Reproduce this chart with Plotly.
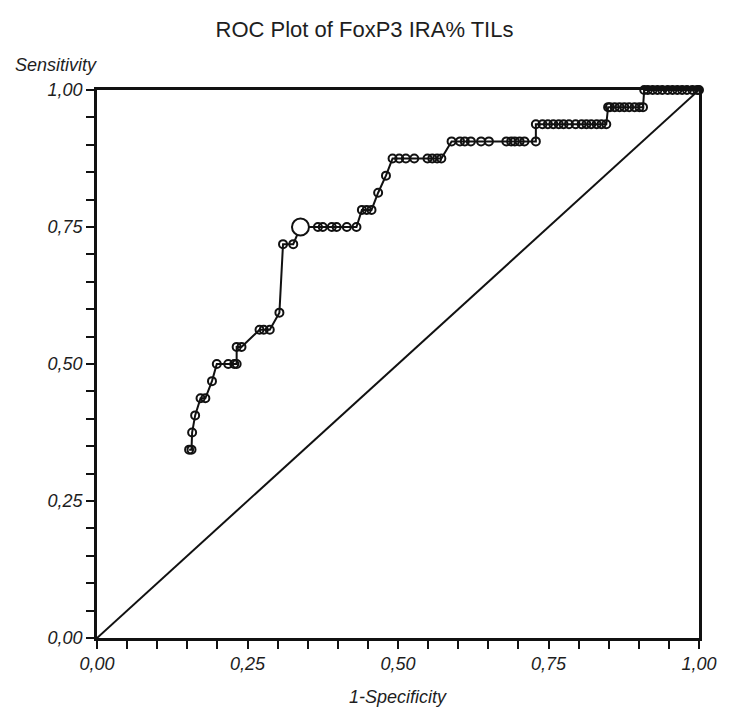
import plotly.graph_objects as go

# ROC curve points: 1-specificity (false positive rate) and sensitivity
one_minus_spec = [
    0.153, 0.157, 0.158, 0.163, 0.172, 0.180, 0.191,
    0.199, 0.218, 0.228, 0.232, 0.232, 0.240,
    0.270, 0.277, 0.287, 0.303,
    0.309, 0.326,
    0.338, 0.367, 0.375, 0.390, 0.398, 0.415, 0.431,
    0.440, 0.448, 0.456, 0.467, 0.480,
    0.491, 0.502, 0.513, 0.527, 0.549, 0.557, 0.565, 0.572,
    0.589, 0.603, 0.611, 0.621, 0.638, 0.651, 0.680, 0.688, 0.694, 0.702, 0.710, 0.729,
    0.729, 0.740, 0.749, 0.758, 0.767, 0.775, 0.784, 0.795, 0.805, 0.813, 0.821, 0.830, 0.838, 0.846,
    0.849, 0.852, 0.860, 0.868, 0.876, 0.884, 0.893, 0.901, 0.907,
    0.909, 0.915, 0.923, 0.931, 0.939, 0.948, 0.956, 0.964, 0.972, 0.980, 0.989, 0.997, 1.000,
]
sensitivity = [
    0.34375, 0.34375, 0.375, 0.40625, 0.4375, 0.4375, 0.46875,
    0.5, 0.5, 0.5, 0.5, 0.53125, 0.53125,
    0.5625, 0.5625, 0.5625, 0.59375,
    0.71875, 0.71875,
    0.75, 0.75, 0.75, 0.75, 0.75, 0.75, 0.75,
    0.78125, 0.78125, 0.78125, 0.8125, 0.84375,
    0.875, 0.875, 0.875, 0.875, 0.875, 0.875, 0.875, 0.875,
    0.90625, 0.90625, 0.90625, 0.90625, 0.90625, 0.90625, 0.90625, 0.90625, 0.90625, 0.90625, 0.90625, 0.90625,
    0.9375, 0.9375, 0.9375, 0.9375, 0.9375, 0.9375, 0.9375, 0.9375, 0.9375, 0.9375, 0.9375, 0.9375, 0.9375, 0.9375,
    0.96875, 0.96875, 0.96875, 0.96875, 0.96875, 0.96875, 0.96875, 0.96875, 0.96875,
    1.0, 1.0, 1.0, 1.0, 1.0, 1.0, 1.0, 1.0, 1.0, 1.0, 1.0, 1.0, 1.0,
]

# Optimal cut-off point highlighted on the curve
cutoff_x = [0.338]
cutoff_y = [0.75]

# Chance (reference) line
chance_x = [0.0, 1.0]
chance_y = [0.0, 1.0]

tick_vals = [0.0, 0.25, 0.5, 0.75, 1.0]
tick_text = ["0,00", "0,25", "0,50", "0,75", "1,00"]

INK = "#111111"
TEXT = "#1e1e1e"
FONT = "Liberation Sans, Arial, sans-serif"

fig = go.Figure()

fig.add_trace(go.Scatter(
    x=chance_x, y=chance_y, mode="lines",
    line=dict(color=INK, width=2), hoverinfo="skip", showlegend=False,
))

fig.add_trace(go.Scatter(
    x=one_minus_spec, y=sensitivity, mode="lines+markers",
    line=dict(color=INK, width=2),
    marker=dict(symbol="circle-open", size=8, color=INK, line=dict(width=2)),
    cliponaxis=False, showlegend=False,
))

fig.add_trace(go.Scatter(
    x=cutoff_x, y=cutoff_y, mode="markers",
    marker=dict(symbol="circle", size=17, color="white", line=dict(color=INK, width=2)),
    cliponaxis=False, showlegend=False,
))

axis_common = dict(
    range=[0, 1],
    showgrid=False, zeroline=False,
    showline=True, linecolor=INK, linewidth=2.5, mirror=True,
    ticks="outside", ticklen=8, tickwidth=2, tickcolor=INK,
    tickvals=tick_vals, ticktext=tick_text,
    tickfont=dict(family=FONT, size=18, color=TEXT, style="italic"),
    minor=dict(ticks="outside", ticklen=8, tickwidth=2, tickcolor=INK, dtick=0.05, tick0=0, showgrid=False),
    fixedrange=True,
)

fig.update_xaxes(**axis_common)
fig.update_yaxes(**axis_common)

fig.update_layout(
    width=729, height=713,
    margin=dict(l=97, r=22, t=90, b=75),
    paper_bgcolor="white", plot_bgcolor="white",
    title=dict(
        text="ROC Plot of FoxP3 IRA% TILs",
        x=0.5, xref="container", xanchor="center",
        y=1 - 29 / 713, yref="container", yanchor="middle",
        font=dict(family=FONT, size=22, color=TEXT),
    ),
    annotations=[
        dict(text="Sensitivity", xref="paper", yref="paper", x=0, y=1,
             xanchor="right", yanchor="middle", xshift=2, yshift=25,
             showarrow=False,
             font=dict(family=FONT, size=18, color=TEXT, style="italic")),
        dict(text="1-Specificity", xref="paper", yref="paper", x=0.5, y=0,
             xanchor="center", yanchor="middle", yshift=-59,
             showarrow=False,
             font=dict(family=FONT, size=18, color=TEXT, style="italic")),
    ],
)

fig.write_html("out.html")
